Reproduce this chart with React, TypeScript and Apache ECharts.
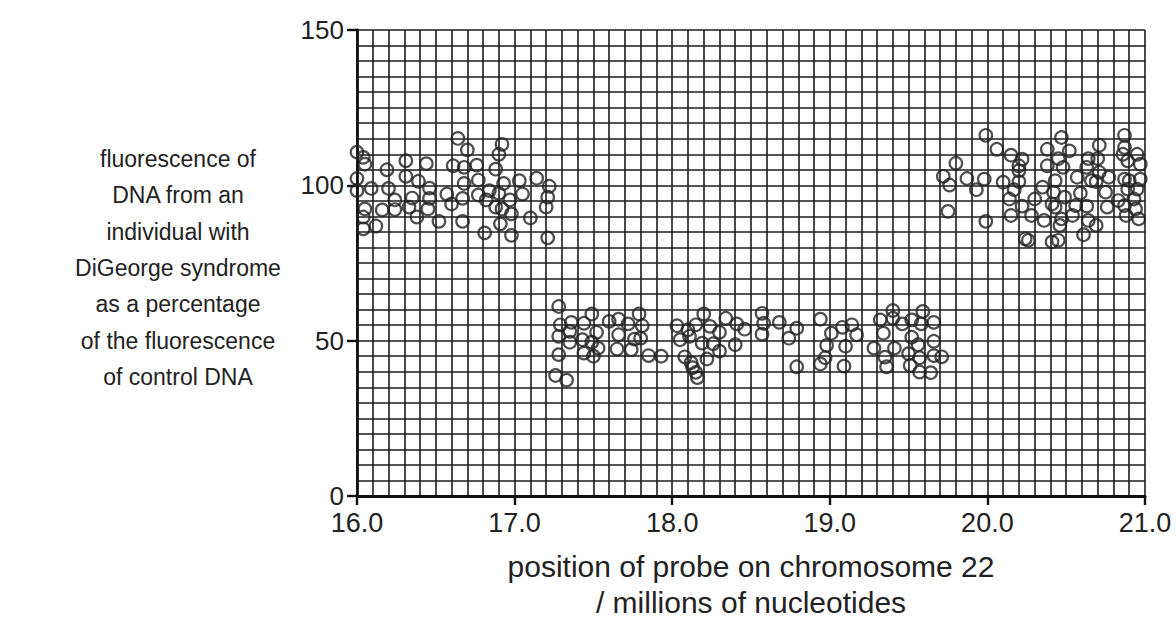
import React, { useEffect, useRef } from "react";
import * as echarts from "echarts";

// Tick labels / axis ranges
const xTicks = [16.0, 17.0, 18.0, 19.0, 20.0, 21.0];
const yTicks = [0, 50, 100, 150];

// Region 1: normal copy number (16.0 – 17.25)
const leftPos = [16.00, 16.04, 16.05, 16.19, 16.31, 16.44, 16.64, 16.70, 16.92, 16.90, 16.61, 16.68, 16.76, 16.88, 16.00, 16.31, 16.39, 16.68, 16.77, 16.93, 17.03, 17.14, 17.22, 16.00, 16.09, 16.20, 16.46, 16.35, 16.46, 16.57, 16.67, 16.77, 16.84, 16.90, 16.97, 17.05, 17.21, 16.24, 16.05, 16.16, 16.24, 16.33, 16.45, 16.60, 16.82, 16.88, 17.20, 16.04, 16.38, 16.52, 16.67, 16.98, 17.10, 16.04, 16.12, 16.91, 16.81, 16.98, 17.21, 16.92];
const leftFluo = [110.7, 109.0, 106.8, 105.0, 107.9, 107.0, 115.1, 111.4, 113.2, 110.0, 106.3, 105.8, 106.5, 105.2, 102.2, 102.9, 101.3, 100.6, 101.7, 100.6, 101.5, 102.3, 99.7, 98.3, 99.0, 99.0, 99.1, 95.9, 95.8, 97.2, 95.8, 96.9, 98.3, 97.4, 95.3, 97.2, 96.2, 95.3, 92.4, 92.1, 92.2, 93.0, 92.4, 94.0, 95.3, 93.0, 93.0, 89.8, 89.8, 88.4, 88.4, 90.8, 89.5, 86.0, 86.9, 87.6, 84.7, 83.9, 83.1, 92.4];

// Region 2: deleted region (17.25 – 19.75)
const midPos = [17.28, 17.29, 17.36, 17.44, 17.49, 17.28, 17.35, 17.35, 17.43, 17.52, 17.49, 17.53, 17.44, 17.50, 17.28, 17.26, 17.33, 17.60, 17.66, 17.72, 17.79, 17.81, 17.66, 17.76, 17.80, 17.65, 17.74, 17.85, 17.93, 18.03, 18.05, 18.10, 18.15, 18.20, 18.24, 18.30, 18.34, 18.41, 18.46, 18.11, 18.19, 18.26, 18.40, 18.30, 18.22, 18.08, 18.12, 18.13, 18.15, 18.16, 18.57, 18.58, 18.57, 18.68, 18.74, 18.79, 18.79, 18.94, 19.01, 18.98, 18.97, 18.94, 19.08, 19.14, 19.17, 19.10, 19.09, 19.32, 19.40, 19.40, 19.46, 19.34, 19.52, 19.59, 19.58, 19.66, 19.52, 19.56, 19.66, 19.28, 19.41, 19.50, 19.35, 19.36, 19.51, 19.57, 19.66, 19.71, 19.57, 19.64];
const midFluo = [61.0, 55.1, 55.9, 55.6, 58.6, 51.4, 53.0, 49.5, 50.3, 52.7, 49.5, 47.6, 46.0, 45.0, 45.5, 38.8, 37.3, 56.2, 56.9, 55.4, 58.6, 54.8, 51.9, 50.5, 50.8, 47.3, 47.1, 45.2, 45.0, 54.8, 50.3, 53.5, 55.1, 58.6, 54.6, 52.7, 57.2, 55.4, 53.7, 51.4, 49.2, 49.0, 48.7, 46.6, 44.1, 44.8, 42.9, 41.3, 39.8, 38.1, 58.8, 55.6, 52.1, 55.9, 50.8, 54.0, 41.6, 56.9, 52.4, 48.5, 44.5, 42.5, 54.3, 55.1, 51.9, 48.2, 41.8, 56.7, 59.7, 57.2, 55.4, 52.4, 56.7, 59.4, 55.4, 55.9, 51.1, 48.7, 49.8, 47.6, 47.6, 45.8, 44.7, 41.6, 42.0, 44.5, 45.2, 44.8, 39.9, 39.7];

// Region 3: normal copy number (19.7 – 21.0)
const rightPos = [19.99, 20.06, 20.15, 20.22, 20.20, 20.20, 19.80, 19.72, 19.76, 19.87, 19.93, 19.98, 20.10, 20.20, 20.17, 19.75, 19.99, 20.14, 20.22, 20.15, 20.28, 20.30, 20.24, 20.26, 20.35, 20.36, 20.38, 20.38, 20.47, 20.45, 20.52, 20.48, 20.43, 20.42, 20.41, 20.43, 20.49, 20.47, 20.46, 20.41, 20.45, 20.56, 20.59, 20.54, 20.57, 20.63, 20.64, 20.61, 20.69, 20.64, 20.63, 20.71, 20.70, 20.71, 20.66, 20.69, 20.77, 20.75, 20.76, 20.83, 20.87, 20.87, 20.86, 20.95, 20.89, 20.97, 20.87, 20.90, 20.97, 20.89, 20.95, 20.93, 20.87, 20.94, 20.88, 20.96];
const rightFluo = [116.1, 111.6, 109.7, 108.4, 106.3, 104.7, 107.1, 102.9, 100.1, 102.2, 98.6, 102.0, 101.0, 101.2, 98.6, 91.6, 88.4, 95.6, 93.3, 90.3, 90.3, 95.6, 82.8, 82.3, 99.4, 88.7, 111.6, 106.3, 115.4, 108.6, 111.1, 105.8, 101.5, 97.8, 94.0, 93.0, 96.2, 89.2, 87.1, 81.8, 82.3, 93.5, 97.5, 90.3, 102.6, 93.3, 88.7, 84.1, 87.1, 108.6, 105.8, 112.9, 108.6, 104.2, 101.5, 101.2, 102.6, 97.8, 93.0, 95.1, 116.1, 112.2, 110.0, 110.0, 107.9, 106.8, 102.0, 101.5, 102.0, 98.8, 98.8, 95.6, 93.5, 92.4, 90.3, 89.2];

const yLabelLines = [
  "fluorescence of",
  "DNA from an",
  "individual with",
  "DiGeorge syndrome",
  "as a percentage",
  "of the fluorescence",
  "of control DNA",
];
const xNameLines = ["position of probe on chromosome 22", "/ millions of nucleotides"];

const FONT = "'Liberation Sans', Arial, Helvetica, sans-serif";
const INK = "#222";

function pairs(xs: number[], ys: number[]) {
  return xs.map((x, i) => [x, ys[i]]);
}

export default function App() {
  const ref = useRef<HTMLDivElement>(null);
  useEffect(() => {
    if (!ref.current) return;
    const chart = echarts.init(ref.current, null, { renderer: "svg" });
    const gridLine = { show: true, lineStyle: { color: "#1c1c1c", width: 1.6 } };
    const marker = {
      type: "scatter" as const,
      symbol: "circle",
      symbolSize: 12.5,
      itemStyle: { color: "rgba(0,0,0,0)", borderColor: INK, borderWidth: 2.2 },
      silent: true,
    };
    chart.setOption({
      animation: false,
      backgroundColor: "#fff",
      grid: { left: 357, top: 30, right: 31, bottom: 126, containLabel: false },
      xAxis: {
        type: "value",
        min: xTicks[0],
        max: xTicks[xTicks.length - 1],
        interval: 1,
        name: xNameLines.join("\n"),
        nameLocation: "middle",
        nameGap: 52,
        nameTextStyle: { fontFamily: FONT, fontSize: 30, color: INK, lineHeight: 36, verticalAlign: "top" },
        axisLine: { show: true, lineStyle: { color: "#111", width: 2.8 } },
        axisTick: { show: true, length: 9, inside: false, lineStyle: { color: "#111", width: 2.4 } },
        axisLabel: {
          fontFamily: FONT,
          fontSize: 27,
          color: INK,
          margin: 15,
          lineHeight: 24,
          formatter: (v: number) => v.toFixed(1),
        },
        splitLine: gridLine,
        minorTick: { show: false, splitNumber: 10 },
        minorSplitLine: gridLine,
      },
      yAxis: {
        type: "value",
        min: yTicks[0],
        max: yTicks[yTicks.length - 1],
        interval: 50,
        axisLine: { show: true, lineStyle: { color: "#111", width: 2.8 } },
        axisTick: { show: true, length: 10, inside: false, lineStyle: { color: "#111", width: 2.4 } },
        axisLabel: { fontFamily: FONT, fontSize: 26, color: INK, margin: 13, lineHeight: 22 },
        splitLine: gridLine,
        minorTick: { show: false, splitNumber: 10 },
        minorSplitLine: gridLine,
      },
      graphic: yLabelLines.map((line, i) => ({
        type: "text",
        x: 178,
        y: 159 + i * 36.3,
        style: {
          text: line,
          fontFamily: FONT,
          fontSize: 23,
          fill: INK,
          align: "center",
          textAlign: "center",
          verticalAlign: "middle",
          textVerticalAlign: "middle",
        },
      })),
      series: [
        { ...marker, name: "16.0–17.25", data: pairs(leftPos, leftFluo) },
        { ...marker, name: "17.25–19.75", data: pairs(midPos, midFluo) },
        { ...marker, name: "19.7–21.0", data: pairs(rightPos, rightFluo) },
      ],
    });
    return () => chart.dispose();
  }, []);
  return (
    <div
      ref={ref}
      style={{ position: "fixed", left: 0, top: 0, width: 1176, height: 625, background: "#fff" }}
    />
  );
}
